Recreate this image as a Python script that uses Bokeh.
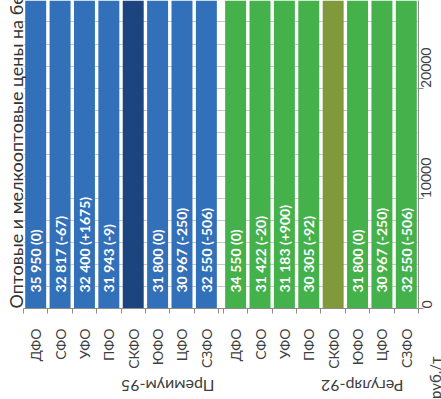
import math
from bokeh.plotting import figure
from bokeh.models import (ColumnDataSource, LinearAxis, FixedTicker, SingleIntervalTicker,
                          Range1d, Label, GlobalInlineStyleSheet)
from bokeh.core.properties import value
from bokeh.embed import file_html
from bokeh.resources import INLINE

# ---- data ----
groups = ["Премиум-95", "Регуляр-92"]
regions = ["ДФО", "СФО", "УФО", "ПФО", "СКФО", "ЮФО", "ЦФО", "СЗФО"]
premium = [35950, 32817, 32400, 31943, 33000, 31800, 30967, 32550]
premium_chg = ["0", "-67", "+1675", "-9", None, "0", "-250", "-506"]
regular = [34550, 31422, 31183, 30305, 31500, 31800, 30967, 32550]
regular_chg = ["0", "-20", "+900", "-92", None, "0", "-250", "-506"]
value_ticks = [0, 10000, 20000, 30000]
title_text = "Оптовые и мелкооптовые цены на бензин, руб./т"
unit_text = "руб./т"

colors = {
    "Премиум-95": ("#3370BA", "#1C4580"),
    "Регуляр-92": ("#45B14A", "#7F993B"),
}

FONT = "Lato"
GAP = 0.2
n = len(regions)

xs, tops, fills, labels = [], [], [], []
centers, boundaries, names = [], [], {}
group_centers, group_names = [], {}
for gi, (g, vals, chg) in enumerate([(groups[0], premium, premium_chg),
                                      (groups[1], regular, regular_chg)]):
    start = gi * (n + GAP)
    for i, (r, v, c) in enumerate(zip(regions, vals, chg)):
        cx = start + i + 0.5
        xs.append(cx)
        tops.append(v)
        fills.append(colors[g][1] if r == "СКФО" else colors[g][0])
        labels.append("" if c is None else f"{v:,}".replace(",", " ") + f" ({c})")
        centers.append(cx)
        names[cx] = r
    boundaries.extend([start + i for i in range(n + 1)])
    gc = start + n / 2
    group_centers.append(gc)
    group_names[gc] = g

src = ColumnDataSource(dict(x=xs, top=tops, fill=fills, label=labels))

p = figure(frame_width=395, frame_height=308, output_backend="svg", toolbar_location=None,
           x_range=Range1d(0, 2 * n + GAP), y_range=Range1d(0, 27950),
           x_axis_location=None, y_axis_location="right",
           title=title_text, title_location="left",
           min_border_top=0, min_border_left=23, min_border_right=0, min_border_bottom=0)
p.stylesheets = [GlobalInlineStyleSheet(css="html, body {margin:0 !important; padding:0 !important; overflow:hidden !important;}")]
p.outline_line_color = None
p.background_fill_color = "white"
p.border_fill_color = "white"

p.title.align = "left"
p.title.text_font = FONT
p.title.text_font_size = "18px"
p.title.text_font_style = "normal"
p.title.text_color = "#333333"
p.title.standoff = -6

p.vbar(x="x", top="top", bottom=0, width=0.86, fill_color="fill", line_color=None, source=src)
p.text(x="x", y=0, text="label", angle=math.pi / 2, text_align="left", text_baseline="middle",
       y_offset=-16, text_color="white", text_font=value(FONT), text_font_style="bold",
       text_font_size="14px", source=src)

# value axis (right)
ya = p.yaxis[0]
ya.ticker = FixedTicker(ticks=value_ticks)
ya.major_label_orientation = math.pi / 2
ya.major_label_text_font = FONT
ya.major_label_text_font_size = "14px"
ya.major_label_text_color = "#404040"
ya.axis_line_color = "#8c8c8c"
ya.major_tick_line_color = "#8c8c8c"
ya.major_tick_out = 5
ya.major_tick_in = 0
ya.minor_tick_line_color = None
ya.major_label_standoff = 3

p.xgrid.visible = False
p.ygrid.ticker = SingleIntervalTicker(interval=2000)
p.ygrid.grid_line_color = "#c8c8c8"

# category axis
ax1 = LinearAxis(ticker=FixedTicker(ticks=centers, minor_ticks=boundaries),
                 major_label_overrides=names)
ax1.major_tick_in = 0
ax1.major_tick_out = 0
ax1.minor_tick_in = 0
ax1.minor_tick_out = 5
ax1.minor_tick_line_color = "#8c8c8c"
ax1.axis_line_color = "#8c8c8c"
ax1.major_label_orientation = math.pi / 2
ax1.major_label_text_font = FONT
ax1.major_label_text_font_size = "14px"
ax1.major_label_text_color = "#404040"
ax1.major_label_standoff = 15
p.add_layout(ax1, "below")

ax2 = LinearAxis(ticker=FixedTicker(ticks=group_centers, minor_ticks=[]),
                 major_label_overrides=group_names)
ax2.axis_line_color = None
ax2.major_tick_line_color = None
ax2.minor_tick_line_color = None
ax2.major_label_orientation = math.pi
ax2.major_label_text_font = FONT
ax2.major_label_text_font_size = "16px"
ax2.major_label_text_color = "#404040"
ax2.major_label_standoff = 9
p.add_layout(ax2, "below")

p.add_layout(Label(x=2 * n + GAP, y=0, text=unit_text, angle=math.pi / 2,
                   text_align="right", text_baseline="middle", x_offset=16, y_offset=-48,
                   text_font=FONT, text_font_size="15px", text_color="#404040"), "right")

open("out.html", "w").write(file_html(p, INLINE))
